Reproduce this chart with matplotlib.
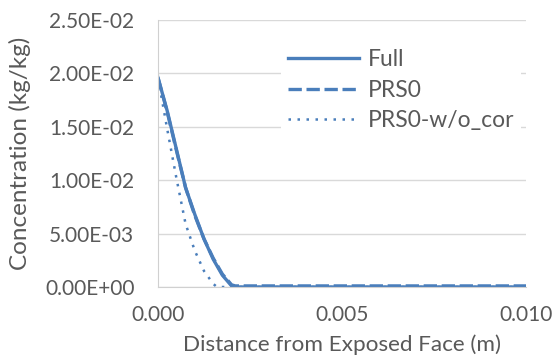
import matplotlib.pyplot as plt
from matplotlib.ticker import FormatStrFormatter, FuncFormatter

plt.rcParams['font.family'] = ['Lato', 'DejaVu Sans']

# distance from exposed face (m)
x_full = [0, 0.00025, 0.0005, 0.00075, 0.001, 0.00125, 0.0015, 0.00175, 0.002, 0.0021,
          0.004, 0.006, 0.008, 0.010]
y_full = [0.0196, 0.0165, 0.0129, 0.0093, 0.0068, 0.0045, 0.0026, 0.0011, 0.0001, 0,
          0, 0, 0, 0]

x_prs0 = [0, 0.00025, 0.0005, 0.00075, 0.001, 0.00125, 0.0015, 0.00175, 0.002, 0.0021,
          0.004, 0.006, 0.008, 0.010]
y_prs0 = [0.0196, 0.0164, 0.0128, 0.0093, 0.0067, 0.0045, 0.0027, 0.0012, 0.0002, 0.0001,
          0.0001, 0.0001, 0.0001, 0.0001]

x_nocor = [0, 0.00025, 0.0005, 0.00075, 0.001, 0.00125, 0.0015, 0.0016,
           0.004, 0.006, 0.008, 0.010]
y_nocor = [0.0196, 0.0148, 0.0102, 0.0059, 0.0034, 0.0015, 0.0003, 0,
           0, 0, 0, 0]

blue = '#4a7ebb'
grey = '#595959'

fig = plt.figure(figsize=(5.53, 3.63), dpi=100)
ax = fig.add_axes([0.2857, 0.2094, 0.6655, 0.7355])

ax.plot(x_full, y_full, color=blue, lw=2.4, label='Full')
ax.plot(x_prs0, y_prs0, color=blue, lw=2.4, ls=(0, (4, 1.4)), label='PRS0')
ax.plot(x_nocor, y_nocor, color=blue, lw=1.8, ls=(0, (1, 2.6)), label='PRS0-w/o_cor')

ax.set_xlim(0, 0.010)
ax.set_ylim(0, 0.025)
ax.set_xticks([0, 0.005, 0.010])
ax.set_yticks([0, 0.005, 0.010, 0.015, 0.020, 0.025])
ax.xaxis.set_major_formatter(FormatStrFormatter('%.3f'))
ax.yaxis.set_major_formatter(FuncFormatter(lambda v, p: ('%.2E' % v)))

ax.grid(axis='y', color='#d9d9d9', lw=1)
ax.set_axisbelow(True)
for s in ['top', 'right']:
    ax.spines[s].set_visible(False)
ax.spines['left'].set_color('#d0d0d0')
ax.spines['bottom'].set_color('#d0d0d0')
ax.tick_params(length=0, labelsize=15, colors=grey)
ax.tick_params(axis='y', pad=17)
ax.tick_params(axis='x', pad=13)

ax.set_xlabel('Distance from Exposed Face (m)', fontsize=16.2, color=grey, labelpad=7)
ax.set_ylabel('Concentration (kg/kg)', fontsize=17.5, color=grey, labelpad=10)

leg = ax.legend(loc='upper left', bbox_to_anchor=(0.303, 0.96), frameon=True, fontsize=16.5,
                handlelength=3.1, labelspacing=0.42, handletextpad=0.4, borderpad=0.3)
leg.get_frame().set_edgecolor('none')
leg.get_frame().set_facecolor('white')
leg.get_frame().set_alpha(1)
for t in leg.get_texts():
    t.set_color(grey)

fig.savefig('out.png', dpi=100)
